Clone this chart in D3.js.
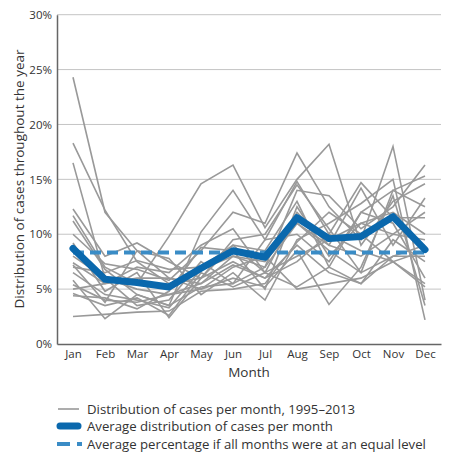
<!DOCTYPE html>
<html><head><meta charset="utf-8">
<script src="https://cdn.jsdelivr.net/npm/d3@7"></script>
<style>body{margin:0;background:#fff;} text{font-family:"Open Sans",sans-serif;}</style>
</head><body><svg id="c" width="457" height="458"></svg>
<script>
const months = ["Jan","Feb","Mar","Apr","May","Jun","Jul","Aug","Sep","Oct","Nov","Dec"];
const yTicks = [0,5,10,15,20,25,30];
const yearSeries = [
 [24.3,12.0,8.5,6.0,5.0,7.0,8.0,5.0,5.5,6.0,7.5,5.2],
 [18.3,12.2,7.5,5.5,6.0,7.5,6.0,9.0,6.5,5.5,8.0,8.0],
 [16.5,6.0,5.0,4.5,5.5,8.0,7.0,11.0,9.0,8.0,10.0,9.5],
 [12.3,8.0,9.2,7.5,6.0,9.5,10.0,14.5,10.5,6.5,14.0,12.5],
 [11.7,7.0,5.5,9.8,14.6,16.3,10.6,15.0,18.2,9.0,13.0,14.6],
 [11.2,6.8,4.5,3.5,10.2,14.0,9.5,14.8,10.0,14.7,11.5,11.5],
 [10.0,7.3,6.8,5.8,8.5,12.0,11.0,17.4,12.5,9.5,18.0,4.0],
 [9.2,4.8,6.5,2.4,6.0,9.0,8.5,13.0,7.0,12.0,14.0,15.3],
 [8.0,6.0,3.5,4.0,7.5,5.5,7.0,14.0,13.5,10.5,12.5,16.3],
 [7.4,5.5,7.0,6.5,9.0,10.5,6.5,12.0,9.0,14.2,9.0,13.3],
 [7.2,3.8,8.5,7.8,4.5,6.5,4.0,9.5,11.0,12.8,15.0,2.2],
 [6.5,4.5,4.0,3.3,6.8,8.0,7.5,11.0,8.5,6.5,8.0,9.0],
 [5.8,2.3,4.5,3.5,5.2,5.5,9.5,10.0,7.5,12.0,11.0,6.0],
 [5.4,4.0,3.8,4.5,5.0,6.0,5.2,8.5,3.6,7.0,13.5,3.5],
 [5.0,5.5,6.0,6.0,5.5,7.2,6.0,7.5,10.0,8.5,7.5,5.5],
 [4.6,3.5,4.2,2.6,6.5,5.2,6.5,5.2,7.0,5.5,9.5,7.5],
 [4.4,4.2,3.2,4.8,8.8,8.5,5.0,12.5,8.0,11.0,10.0,12.0],
 [2.5,2.7,2.9,3.0,4.8,5.0,5.5,9.3,12.0,10.0,7.5,8.5],
 [7.0,6.5,7.6,6.8,7.0,9.0,6.5,8.0,9.5,11.0,12.0,10.0]
];
const averageSeries = [8.7,5.9,5.6,5.2,6.9,8.5,7.9,11.5,9.6,9.8,11.6,8.6];
const equalLevel = 100/12;
const legendLabels = ["Distribution of cases per month, 1995–2013","Average distribution of cases per month","Average percentage if all months were at an equal level"];

const svg = d3.select("#c");
const L=57, R=441, T=14.7, B=344;
const x = d3.scalePoint().domain(months).range([L,R]).padding(0.5);
const y = d3.scaleLinear().domain([0,30]).range([B,T]);

svg.append("g").selectAll("line").data(yTicks.filter(d=>d>0)).join("line")
  .attr("x1",L).attr("x2",R).attr("y1",d=>y(d)).attr("y2",d=>y(d))
  .attr("stroke","#c4c4c4").attr("stroke-width",1);

const ya = svg.append("g").attr("transform",`translate(${L},0)`)
  .call(d3.axisLeft(y).tickValues(yTicks).tickFormat(d=>d+"%").tickSize(0).tickPadding(5));
ya.select(".domain").attr("stroke","#666").attr("stroke-width",1.5);
ya.selectAll("text").attr("font-size",11.5).attr("fill","#333").style("font-family","Open Sans");

const xa = svg.append("g").attr("transform",`translate(0,${B})`)
  .call(d3.axisBottom(x).tickSize(0).tickPadding(6));
xa.select(".domain").attr("stroke","#666").attr("stroke-width",1.5);
xa.selectAll("text").attr("font-size",11.5).attr("fill","#333").style("font-family","Open Sans");

const line = d3.line().x((d,i)=>x(months[i])).y(d=>y(d));

svg.append("g").selectAll("path").data(yearSeries).join("path")
  .attr("d",line).attr("fill","none").attr("stroke","#999").attr("stroke-width",1.6);

svg.append("line").attr("x1",x("Jan")).attr("x2",x("Dec"))
  .attr("y1",y(equalLevel)).attr("y2",y(equalLevel))
  .attr("stroke","#3a8cc6").attr("stroke-width",4).attr("stroke-dasharray","11,6");

svg.append("path").attr("d",line(averageSeries)).attr("fill","none")
  .attr("stroke","#0a68ad").attr("stroke-width",7).attr("stroke-linejoin","round").attr("stroke-linecap","round");

svg.append("text").attr("transform","translate(24,179) rotate(-90)")
  .attr("text-anchor","middle").attr("font-size",13.5).attr("fill","#333")
  .text("Distribution of cases throughout the year");
svg.append("text").attr("x",249).attr("y",377).attr("text-anchor","middle")
  .attr("font-size",13.5).attr("fill","#333").text("Month");

const ly = [409,426,444];
const lg = svg.append("g");
lg.append("line").attr("x1",58).attr("x2",79).attr("y1",ly[0]).attr("y2",ly[0]).attr("stroke","#999").attr("stroke-width",1.6);
lg.append("line").attr("x1",60).attr("x2",78).attr("y1",ly[1]).attr("y2",ly[1]).attr("stroke","#0a68ad").attr("stroke-width",7).attr("stroke-linecap","round");
lg.append("line").attr("x1",57).attr("x2",82).attr("y1",ly[2]).attr("y2",ly[2]).attr("stroke","#3a8cc6").attr("stroke-width",4).attr("stroke-dasharray","13,7");
lg.selectAll("text").data(legendLabels).join("text")
  .attr("x",87).attr("y",(d,i)=>ly[i]).attr("dy","0.35em")
  .attr("font-size",13.2).attr("fill","#333").text(d=>d);
</script></body></html>
